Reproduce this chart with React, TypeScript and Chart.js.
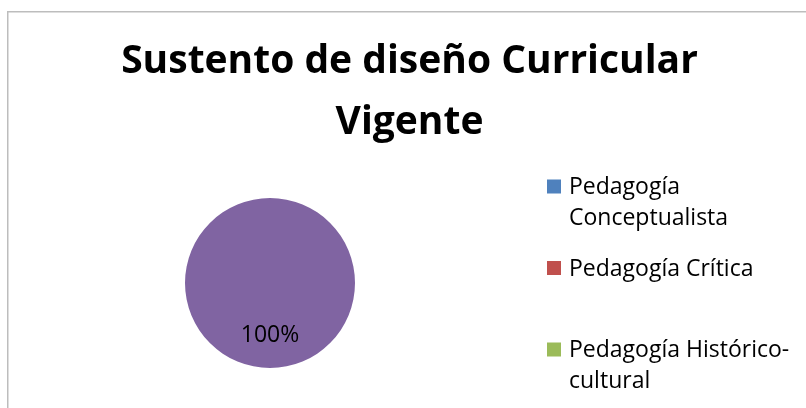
import React, { useEffect, useRef } from 'react';
import { Chart, registerables } from 'chart.js';

Chart.register(...registerables);

const titleLines = ['Sustento de diseño Curricular', 'Vigente'];
const categories = [
  'Pedagogía Conceptualista',
  'Pedagogía Crítica',
  'Pedagogía Histórico-cultural',
  'Otra',
];
const values = [0, 0, 0, 100];
const colors = ['#4F81BD', '#C0504D', '#9BBB59', '#8064A2'];

const FONT = '"Open Sans", Lato, sans-serif';

function wrapText(ctx: CanvasRenderingContext2D, text: string, maxW: number): string[] {
  const tokens = text.match(/[^\s-]+-?|\s+/g) || [text];
  const lines: string[] = [];
  let cur = '';
  for (const t of tokens) {
    const test = cur + t;
    if (cur.trim() !== '' && ctx.measureText(test.trim()).width > maxW) {
      lines.push(cur.trim());
      cur = t.trim() === '' ? '' : t;
    } else {
      cur = test;
    }
  }
  if (cur.trim() !== '') lines.push(cur.trim());
  return lines;
}

const decorPlugin = {
  id: 'decor',
  beforeDraw(chart: any) {
    const ctx = chart.ctx as CanvasRenderingContext2D;
    ctx.save();
    ctx.fillStyle = '#ffffff';
    ctx.fillRect(0, 0, chart.width, chart.height);
    ctx.fillStyle = '#bdbdbd';
    ctx.fillRect(7, 11, chart.width, 1.5);
    ctx.fillRect(7, 11, 1.5, chart.height);
    ctx.restore();
  },
  afterDraw(chart: any) {
    const ctx = chart.ctx as CanvasRenderingContext2D;
    ctx.save();
    // Title
    ctx.fillStyle = '#000000';
    ctx.textAlign = 'center';
    ctx.textBaseline = 'alphabetic';
    ctx.font = `bold 39px ${FONT}`;
    const tb = [73, 134];
    titleLines.forEach((l, i) => ctx.fillText(l, 409.5, tb[i]));

    // Percent labels
    const meta = chart.getDatasetMeta(0);
    const data = chart.data.datasets[0].data as number[];
    const total = data.reduce((a, b) => a + b, 0);
    ctx.font = `23px ${FONT}`;
    ctx.textBaseline = 'alphabetic';
    meta.data.forEach((arc: any, i: number) => {
      if (!data[i]) return;
      const p = arc.getProps(['x', 'y', 'startAngle', 'endAngle', 'outerRadius'], true);
      const mid = (p.startAngle + p.endAngle) / 2;
      const r = p.outerRadius * 0.59;
      ctx.fillText(
        Math.round((data[i] / total) * 100) + '%',
        p.x + Math.cos(mid) * r,
        p.y + Math.sin(mid) * r + 8.5
      );
    });

    // Legend
    ctx.textAlign = 'left';
    ctx.textBaseline = 'alphabetic';
    ctx.font = `23px ${FONT}`;
    const labels = chart.data.labels as string[];
    const bg = chart.data.datasets[0].backgroundColor as string[];
    labels.forEach((lab, i) => {
      const base = 194 + i * 81.5;
      ctx.fillStyle = bg[i];
      ctx.fillRect(547, base - 14.5, 14, 14);
      ctx.fillStyle = '#000000';
      const lines = wrapText(ctx, lab, 230);
      lines.forEach((ln, j) => ctx.fillText(ln, 569, base + j * 30.5));
    });
    ctx.restore();
  },
};

export default function App() {
  const ref = useRef<HTMLCanvasElement>(null);
  useEffect(() => {
    if (!ref.current) return;
    const chart = new Chart(ref.current, {
      type: 'pie',
      data: {
        labels: categories,
        datasets: [
          {
            data: values,
            backgroundColor: colors,
            borderWidth: 0,
          },
        ],
      },
      options: {
        responsive: false,
        animation: false,
        layout: { padding: { left: 185, right: 451, top: 198, bottom: 40 } },
        plugins: {
          legend: { display: false },
          title: { display: false },
          tooltip: { enabled: false },
        },
      },
      plugins: [decorPlugin],
    });
    return () => chart.destroy();
  }, []);
  return (
    <div style={{ position: 'fixed', left: 0, top: 0, width: 806, height: 408, background: '#fff' }}>
      <canvas ref={ref} width={806} height={408} style={{ display: 'block', width: 806, height: 408 }} />
    </div>
  );
}
